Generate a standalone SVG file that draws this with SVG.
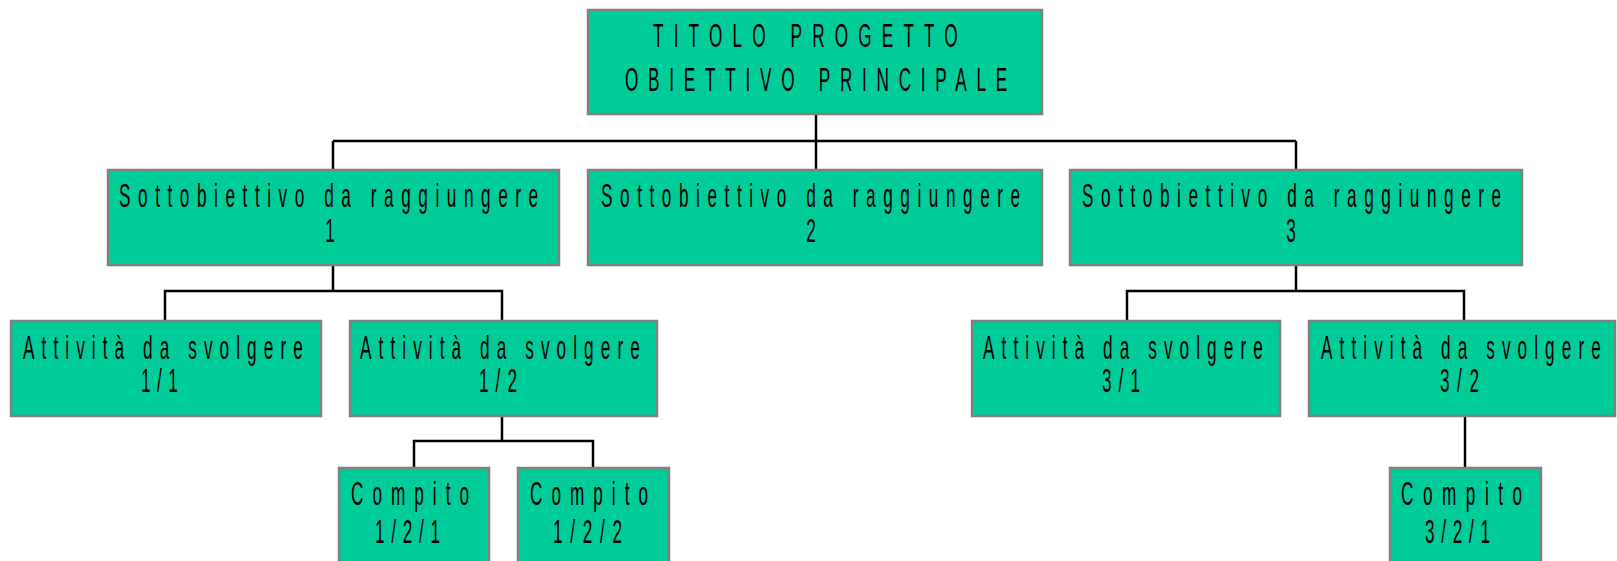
<svg xmlns="http://www.w3.org/2000/svg" width="1617" height="561" viewBox="0 0 1617 561">
<style>
.node rect{fill:#00CC99;stroke:#808080;stroke-width:2.5}
.node text{font-family:"Liberation Sans",Arial,sans-serif;font-size:33px;fill:#000}
.conn path{fill:none;stroke:#000;stroke-width:2.5}
</style>
<rect width="1617" height="561" fill="#fff"/>
<g class="conn" id="connectors">
<path d="M816 115V141M333 141H1296M333 141V170M816 141V170M1296 141V170"/>
<path d="M333 265V291M165 321V291H502V321"/>
<path d="M1296 265V291M1127 321V291H1464V321"/>
<path d="M502 416V441M414 468V441H593V468"/>
<path d="M1465 416V468"/>
</g>
<g class="node" id="n-root">
<rect x="588" y="10" width="454" height="104"/>
<text transform="translate(653,47) scale(0.52,1)" textLength="586" lengthAdjust="spacing">TITOLO PROGETTO</text>
<text transform="translate(625,91) scale(0.52,1)" textLength="735" lengthAdjust="spacing">OBIETTIVO PRINCIPALE</text>
</g>
<g class="node" id="n-s1">
<rect x="108" y="170" width="451" height="95"/>
<text transform="translate(119,207) scale(0.52,1)" textLength="806" lengthAdjust="spacing">Sottobiettivo da raggiungere</text>
<text transform="translate(330,242) scale(0.52,1)" text-anchor="middle">1</text>
</g>
<g class="node" id="n-s2">
<rect x="588" y="170" width="454" height="95"/>
<text transform="translate(601,207) scale(0.52,1)" textLength="806" lengthAdjust="spacing">Sottobiettivo da raggiungere</text>
<text transform="translate(811,242) scale(0.52,1)" text-anchor="middle">2</text>
</g>
<g class="node" id="n-s3">
<rect x="1070" y="170" width="452" height="95"/>
<text transform="translate(1082,207) scale(0.52,1)" textLength="806" lengthAdjust="spacing">Sottobiettivo da raggiungere</text>
<text transform="translate(1291,242) scale(0.52,1)" text-anchor="middle">3</text>
</g>
<g class="node" id="n-a11">
<rect x="11" y="321" width="310" height="95"/>
<text transform="translate(23,359) scale(0.52,1)" textLength="538" lengthAdjust="spacing">Attività da svolgere</text>
<text transform="translate(141,392) scale(0.52,1)" textLength="71" lengthAdjust="spacing">1/1</text>
</g>
<g class="node" id="n-a12">
<rect x="350" y="321" width="307" height="95"/>
<text transform="translate(360,359) scale(0.52,1)" textLength="538" lengthAdjust="spacing">Attività da svolgere</text>
<text transform="translate(479,392) scale(0.52,1)" textLength="73" lengthAdjust="spacing">1/2</text>
</g>
<g class="node" id="n-a31">
<rect x="972" y="321" width="308" height="95"/>
<text transform="translate(983,359) scale(0.52,1)" textLength="538" lengthAdjust="spacing">Attività da svolgere</text>
<text transform="translate(1102,392) scale(0.52,1)" textLength="73" lengthAdjust="spacing">3/1</text>
</g>
<g class="node" id="n-a32">
<rect x="1309" y="321" width="306" height="95"/>
<text transform="translate(1321,359) scale(0.52,1)" textLength="538" lengthAdjust="spacing">Attività da svolgere</text>
<text transform="translate(1440,392) scale(0.52,1)" textLength="75" lengthAdjust="spacing">3/2</text>
</g>
<g class="node" id="n-c121">
<rect x="339" y="468" width="150" height="100"/>
<text transform="translate(351,505) scale(0.52,1)" textLength="227" lengthAdjust="spacing">Compito</text>
<text transform="translate(375,543) scale(0.52,1)" textLength="125" lengthAdjust="spacing">1/2/1</text>
</g>
<g class="node" id="n-c122">
<rect x="518" y="468" width="151" height="100"/>
<text transform="translate(530,505) scale(0.52,1)" textLength="227" lengthAdjust="spacing">Compito</text>
<text transform="translate(553,543) scale(0.52,1)" textLength="133" lengthAdjust="spacing">1/2/2</text>
</g>
<g class="node" id="n-c321">
<rect x="1390" y="468" width="151" height="100"/>
<text transform="translate(1401,505) scale(0.52,1)" textLength="233" lengthAdjust="spacing">Compito</text>
<text transform="translate(1425,543) scale(0.52,1)" textLength="125" lengthAdjust="spacing">3/2/1</text>
</g>
</svg>
